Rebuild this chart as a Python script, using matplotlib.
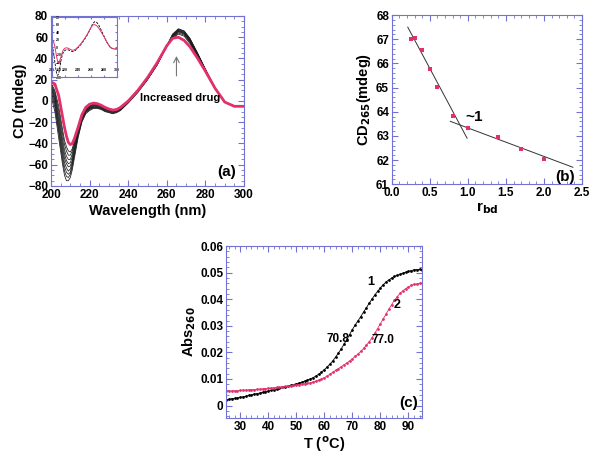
import matplotlib
matplotlib.use("Agg")
import matplotlib.pyplot as plt
from matplotlib.ticker import MultipleLocator

plt.rcParams['font.family'] = ['Liberation Sans', 'DejaVu Sans']
plt.rcParams['font.weight'] = 'bold'
plt.rcParams['mathtext.default'] = 'bf'

frame_col = "#7272d4"
pink = "#e2306b"

# ---- panel (a): CD spectra ----
wavelength = [200, 202, 204, 206, 207, 208, 209, 210, 211, 212, 214, 216, 218, 220, 222, 224,
              226, 228, 230, 232, 234, 236, 240, 245, 250, 255, 260, 263, 266, 269, 272, 276,
              280, 285, 290, 295, 300]
cd_black = [
    [5, -10, -35, -60, -70, -75, -75, -72, -65, -55, -35, -20, -12, -9, -7, -7, -8, -10, -11, -12, -11, -9, -2, 8, 20, 34, 52, 63, 68, 66, 59, 45, 30, 12, -1, -5, -5],
    [8, -6, -30, -56, -66, -71, -72, -69, -62, -52, -33, -19, -11, -8, -6.5, -6.5, -7.5, -9.5, -10.5, -11.5, -10.5, -8.5, -1.5, 8.5, 20, 34, 52, 62.5, 67.5, 65.5, 58.5, 44.5, 30, 12, -1, -5, -5],
    [10, -3, -27, -52, -62, -67, -69, -67, -60, -50, -32, -18, -10.5, -7.5, -6, -6, -7, -9, -10, -11, -10, -8, -1, 9, 20.5, 34, 51.5, 62, 67, 65, 58, 44, 29.5, 12, -1, -5, -5],
    [12, 0, -24, -48, -58, -63, -66, -64, -58, -48, -30, -17, -10, -7, -5.5, -5.5, -6.5, -8.5, -9.5, -10.5, -9.5, -7.5, -0.5, 9, 20.5, 34.5, 51.5, 61.5, 66.5, 64.5, 57.5, 43.5, 29.5, 12, -1, -5, -5],
    [13, 2, -20, -44, -54, -59, -62, -61, -56, -46, -29, -16, -9.5, -6.5, -5, -5, -6, -8, -9, -10, -9, -7, 0, 9.5, 21, 34.5, 51.5, 61, 66, 64, 57, 43, 29, 12, -1, -5, -5],
    [14, 4, -17, -40, -50, -56, -59, -58, -53, -44, -28, -15.5, -9, -6, -4.5, -4.5, -5.5, -7.5, -8.5, -9.5, -8.5, -6.5, 0, 9.5, 21, 34.5, 51.5, 60.5, 65.5, 63.5, 56.5, 42.5, 29, 12, -1, -5, -5],
    [15, 6, -13, -36, -46, -52, -55, -55, -50, -42, -27, -15, -8.5, -5.5, -4, -4, -5, -7, -8, -9, -8.5, -6.5, 0, 9.5, 21, 35, 51.5, 60, 65, 63, 56, 42, 28.5, 12, -1, -5, -5],
    [16, 8, -9, -31, -41, -47, -51, -51, -47, -40, -26, -14.5, -8, -5, -3.5, -3.5, -4.5, -6.5, -7.5, -8.5, -8, -6, 0, 9.5, 21, 35, 51.5, 59.5, 64, 62, 55, 41.5, 28.5, 12, -1, -5, -5],
    [17, 10, -5, -27, -37, -43, -47, -48, -45, -38, -25, -14, -7.5, -4.5, -3, -3, -4, -6, -7.5, -8.5, -8, -6, 0, 9.5, 21, 35, 51.5, 59, 63, 61, 54, 41, 28, 12, -1, -5, -5],
]
cd_pink = [18, 16, 5, -15, -25, -33, -39, -41, -40, -36, -25, -13, -6, -3, -2, -2.5, -4, -6, -7.5, -8.5, -8, -6, 0, 10, 22, 36, 52, 59, 60, 57, 51, 40, 28, 12, -1, -5, -5]

# ---- panel (b): CD at 265 nm vs r_bd ----
r_bd = [0.25, 0.3, 0.4, 0.5, 0.6, 0.8, 1.0, 1.4, 1.7, 2.0]
cd265 = [67.0, 67.05, 66.55, 65.75, 65.02, 63.82, 63.33, 62.97, 62.47, 62.03]
fit1_x = [0.21, 0.99]
fit1_y = [67.5, 62.9]
fit2_x = [0.77, 2.38]
fit2_y = [63.6, 61.7]

# ---- panel (c): melting curves ----
temp = list(range(25, 96))
abs_1 = [.0022, .0024, .0026, .0027, .0029, .0031, .0033, .0035, .0038, .0040,
         .0043, .0045, .0047, .0050, .0052, .0055, .0057, .0060, .0062, .0065,
         .0068, .0070, .0073, .0076, .0079, .0082, .0085, .0088, .0092, .0096,
         .0100, .0105, .0111, .0118, .0126, .0135, .0145, .0156, .0168, .0182,
         .0197, .0213, .0230, .0248, .0267, .0286, .0303, .0319, .0335, .0352,
         .0368, .0385, .0401, .0416, .0430, .0443, .0455, .0465, .0473, .0480,
         .0486, .0490, .0494, .0498, .0502, .0505, .0508, .0511, .0512, .0513, .0512]
abs_2 = [.0055, .0054, .0055, .0056, .0055, .0057, .0058, .0058, .0059, .0060,
         .0060, .0061, .0062, .0063, .0064, .0065, .0066, .0067, .0068, .0069,
         .0071, .0072, .0073, .0074, .0076, .0077, .0079, .0080, .0082, .0084,
         .0086, .0089, .0092, .0096, .0100, .0105, .0111, .0118, .0125, .0132,
         .0139, .0146, .0153, .0160, .0168, .0176, .0185, .0194, .0204, .0215,
         .0227, .0240, .0255, .0272, .0290, .0308, .0326, .0344, .0362, .0380,
         .0396, .0410, .0422, .0432, .0440, .0447, .0452, .0456, .0458, .0460, .0460]


def style_frame(ax, label_size=8.5):
    for s in ax.spines.values():
        s.set_color(frame_col)
        s.set_linewidth(0.8)
    ax.tick_params(which='both', direction='in', top=True, right=True,
                   color=frame_col, labelsize=label_size, pad=2)
    ax.tick_params(which='major', length=4, width=0.8)
    ax.tick_params(which='minor', length=2, width=0.6)
    for lab in ax.get_xticklabels() + ax.get_yticklabels():
        lab.set_fontweight('bold')


fig = plt.figure(figsize=(6, 4.57), dpi=100)

# (a)
ax_a = fig.add_axes([0.085, 0.593, 0.3217, 0.372])
for cd in cd_black:
    ax_a.plot(wavelength, cd, color='#1a1a1a', lw=0.55)
ax_a.plot(wavelength, cd_pink, color=pink, lw=2)
ax_a.set_xlim(200, 300)
ax_a.set_ylim(-80, 80)
ax_a.xaxis.set_major_locator(MultipleLocator(20))
ax_a.xaxis.set_minor_locator(MultipleLocator(5))
ax_a.yaxis.set_major_locator(MultipleLocator(20))
ax_a.yaxis.set_minor_locator(MultipleLocator(5))
style_frame(ax_a)
ax_a.set_xlabel("Wavelength (nm)", fontsize=10.5, fontweight='bold', labelpad=2)
ax_a.set_ylabel("CD (mdeg)", fontsize=10.5, fontweight='bold', labelpad=1)
ax_a.annotate("", xy=(265, 45), xytext=(265, 21),
              arrowprops=dict(arrowstyle='->', color='#777777', lw=0.8))
ax_a.text(267, 3, "Increased drug", fontsize=8, fontweight='bold', ha='center', va='center')
ax_a.text(291, -67, "(a)", fontsize=11, fontweight='bold', ha='center', va='center')

# inset (its tiny tick labels sit inside the frame)
ax_in = fig.add_axes([0.0867, 0.8315, 0.108, 0.131])
ax_in.plot(wavelength, cd_black[0], color='black', lw=0.6, ls='--', dashes=(3, 1.5))
ax_in.plot(wavelength, cd_pink, color=pink, lw=0.7)
ax_in.set_xlim(200, 300)
ax_in.set_ylim(-80, 80)
ax_in.xaxis.set_major_locator(MultipleLocator(20))
ax_in.yaxis.set_major_locator(MultipleLocator(20))
style_frame(ax_in, label_size=2.5)
ax_in.tick_params(which='major', length=1.5)
ax_in.tick_params(axis='y', pad=-2.5)
ax_in.tick_params(axis='x', pad=-3.5)
for lab in ax_in.get_yticklabels():
    lab.set_horizontalalignment('left')
for lab in ax_in.get_xticklabels():
    lab.set_verticalalignment('bottom')

# (b)
ax_b = fig.add_axes([0.653, 0.597, 0.317, 0.370])
ax_b.plot(fit1_x, fit1_y, color='#333333', lw=0.7)
ax_b.plot(fit2_x, fit2_y, color='#333333', lw=0.7)
ax_b.plot(r_bd, cd265, 's', color=pink, ms=2.3, markeredgewidth=0)
ax_b.set_xlim(0, 2.5)
ax_b.set_ylim(61, 68)
ax_b.xaxis.set_major_locator(MultipleLocator(0.5))
ax_b.xaxis.set_minor_locator(MultipleLocator(0.1))
ax_b.yaxis.set_major_locator(MultipleLocator(1))
ax_b.yaxis.set_minor_locator(MultipleLocator(0.2))
style_frame(ax_b)
ax_b.set_xlabel("r$_{bd}$", fontsize=11, fontweight='bold', labelpad=1)
ax_b.set_ylabel("CD$_{265}$(mdeg)", fontsize=10.5, fontweight='bold', labelpad=2)
ax_b.text(0.97, 63.8, "~1", fontsize=11, fontweight='bold', ha='left', va='center')
ax_b.text(2.28, 61.3, "(b)", fontsize=11, fontweight='bold', ha='center', va='center')

# (c)
ax_c = fig.add_axes([0.377, 0.0853, 0.327, 0.376])
ax_c.plot(temp, abs_1, '-o', color='black', lw=0.6, ms=2, markeredgewidth=0)
ax_c.plot(temp, abs_2, '-o', color=pink, lw=0.6, ms=2, markeredgewidth=0)
ax_c.set_xlim(25, 95)
ax_c.set_ylim(-0.0047, 0.06)
ax_c.xaxis.set_major_locator(MultipleLocator(10))
ax_c.xaxis.set_minor_locator(MultipleLocator(2))
ax_c.yaxis.set_major_locator(MultipleLocator(0.01))
ax_c.yaxis.set_minor_locator(MultipleLocator(0.002))
style_frame(ax_c)
ax_c.set_yticks([0, 0.01, 0.02, 0.03, 0.04, 0.05, 0.06])
ax_c.set_yticklabels(["0", "0.01", "0.02", "0.03", "0.04", "0.05", "0.06"], fontweight='bold')
ax_c.set_xlabel("T ($^{o}$C)", fontsize=10.5, fontweight='bold', labelpad=1)
ax_c.set_ylabel("Abs$_{260}$", fontsize=10.5, fontweight='bold', labelpad=2)
ax_c.text(76.4, 0.0466, "1", fontsize=9, fontweight='bold', ha='center', va='center')
ax_c.text(85.9, 0.0378, "2", fontsize=9, fontweight='bold', ha='center', va='center')
ax_c.text(64.8, 0.025, "70.8", fontsize=8.5, fontweight='bold', ha='center', va='center')
ax_c.text(80.8, 0.0247, "77.0", fontsize=8.5, fontweight='bold', ha='center', va='center')
ax_c.text(90, 0.001, "(c)", fontsize=11, fontweight='bold', ha='center', va='center')

plt.savefig("out.png", dpi=100)
